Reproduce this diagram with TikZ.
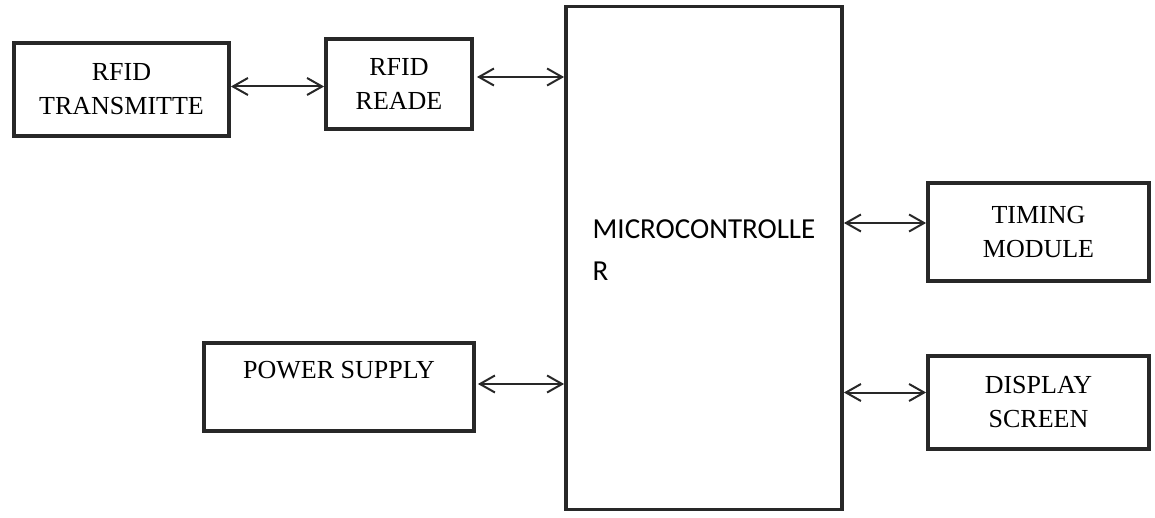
\documentclass[tikz,border=0pt]{standalone}
\usepackage{fontspec}
\setmainfont{Liberation Serif}
\newfontfamily\mcufont{Carlito}
\usetikzlibrary{arrows.meta}
\definecolor{boxline}{RGB}{40, 40, 40}
\definecolor{wire}{RGB}{40, 40, 40}

\begin{document}
\begin{tikzpicture}[x=1pt, y=-1pt,
    block/.style={draw=boxline, line width=3.8pt, fill=white, align=center, font=\fontsize{26}{34}\selectfont},
    link/.style={draw=wire, line width=2pt, {Straight Barb[length=15pt, width=17pt]}-{Straight Barb[length=15pt, width=17pt]}}]
                \useasboundingbox (0,0) rectangle (1155,518);
                
                \node[block, minimum width=215pt, minimum height=93pt] (trans) at (121.5,89.5) {RFID\\TRANSMITTE};
                \node[block, minimum width=146pt, minimum height=90pt] (reader) at (399,84) {RFID\\READE};
                \node[block, minimum width=276pt, minimum height=503pt, align=left, font=\mcufont\fontsize{29}{42}\selectfont] (mcu) at (704,258) {MICROCONTROLLE\\R\rule[-16pt]{0pt}{0pt}};
                \node[block, minimum width=270pt, minimum height=88pt] (power) at (339,387) {POWER SUPPLY\\\mbox{}};
                \node[block, minimum width=221pt, minimum height=98pt] (timing) at (1038.5,232) {TIMING\\MODULE};
                \node[block, minimum width=221pt, minimum height=93pt] (display) at (1038.5,402.5) {DISPLAY\\SCREEN};
                
                \draw[link] ([yshift=3pt]trans.east) -- ([yshift=3pt]trans.east -| reader.west);
                \draw[link, shorten <=3pt] ([yshift=7pt]reader.east) -- ([yshift=7pt]reader.east -| mcu.west);
                \draw[link, shorten <=2pt] ([yshift=3pt]power.east) -- ([yshift=3pt]power.east -| mcu.west);
                \draw[link] ([yshift=9pt]timing.west -| mcu.east) -- ([yshift=9pt]timing.west);
                \draw[link] ([yshift=10pt]display.west -| mcu.east) -- ([yshift=10pt]display.west);
            \end{tikzpicture}
\end{document}
